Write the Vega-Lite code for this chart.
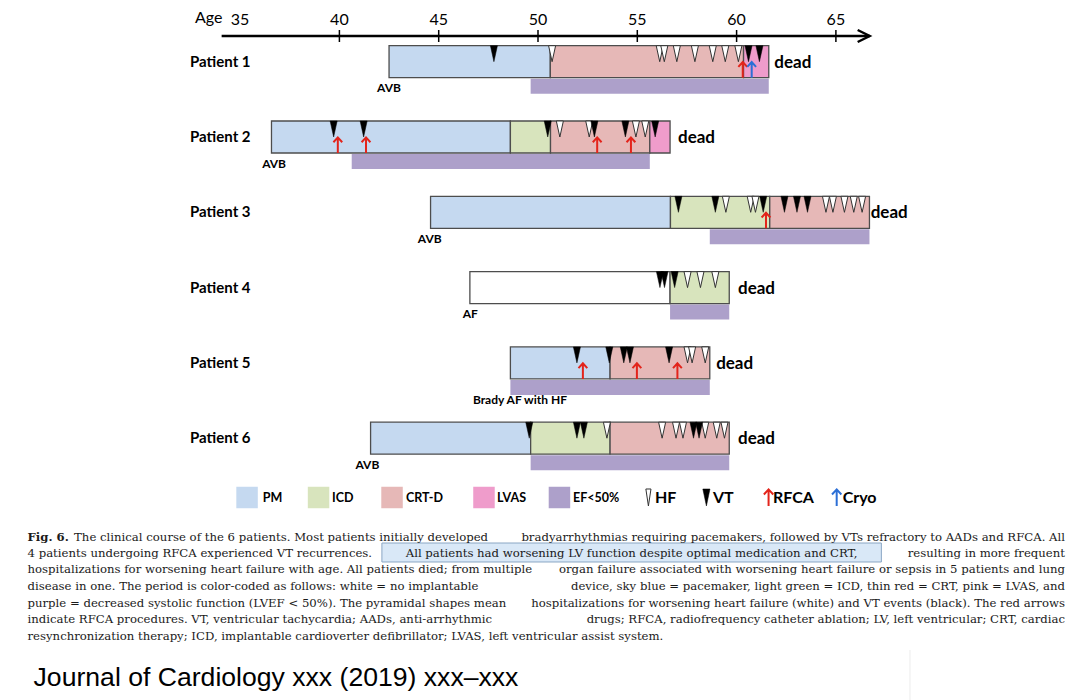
{
  "$schema": "https://vega.github.io/schema/vega-lite/v6.json",
  "width": 1076,
  "height": 700,
  "autosize": "none",
  "padding": 0,
  "background": "white",
  "config": {"view": {"stroke": null}, "axis": {"disable": true}},
  "datasets": {
    "axisline": [{"from": 34.07, "to": 66.7, "r": 0.6587}],
    "ticks": [{"age": 40}, {"age": 45}, {"age": 50}, {"age": 55}, {"age": 60}, {"age": 65}],
    "agelabels": [{"age": 35, "label": "35"}, {"age": 40, "label": "40"}, {"age": 45, "label": "45"}, {"age": 50, "label": "50"}, {"age": 55, "label": "55"}, {"age": 60, "label": "60"}, {"age": 65, "label": "65"}],
    "segs": [
      {"row": 1, "kind": "PM", "start": 42.5, "end": 50.62},
      {"row": 1, "kind": "CRT-D", "start": 50.62, "end": 60.35},
      {"row": 1, "kind": "LVAS", "start": 60.35, "end": 61.62},
      {"row": 2, "kind": "PM", "start": 36.58, "end": 48.61},
      {"row": 2, "kind": "ICD", "start": 48.61, "end": 50.63},
      {"row": 2, "kind": "CRT-D", "start": 50.63, "end": 55.63},
      {"row": 2, "kind": "LVAS", "start": 55.63, "end": 56.65},
      {"row": 3, "kind": "PM", "start": 44.59, "end": 56.67},
      {"row": 3, "kind": "ICD", "start": 56.67, "end": 61.67},
      {"row": 3, "kind": "CRT-D", "start": 61.67, "end": 66.69},
      {"row": 4, "kind": "None", "start": 46.57, "end": 56.65},
      {"row": 4, "kind": "ICD", "start": 56.65, "end": 59.63},
      {"row": 5, "kind": "PM", "start": 48.61, "end": 53.63},
      {"row": 5, "kind": "CRT-D", "start": 53.63, "end": 58.65},
      {"row": 6, "kind": "PM", "start": 41.57, "end": 49.63},
      {"row": 6, "kind": "ICD", "start": 49.63, "end": 53.63},
      {"row": 6, "kind": "CRT-D", "start": 53.63, "end": 59.63}
    ],
    "ef": [
      {"row": 1, "kind": "EF<50%", "start": 49.63, "end": 61.62},
      {"row": 2, "kind": "EF<50%", "start": 40.62, "end": 55.63},
      {"row": 3, "kind": "EF<50%", "start": 58.65, "end": 66.69},
      {"row": 4, "kind": "EF<50%", "start": 56.65, "end": 59.63},
      {"row": 5, "kind": "EF<50%", "start": 48.61, "end": 58.65},
      {"row": 6, "kind": "EF<50%", "start": 49.63, "end": 59.63}
    ],
    "events": [
      {"row": 1, "type": "VT", "age": 47.78},
      {"row": 1, "type": "HF", "age": 50.71},
      {"row": 1, "type": "HF", "age": 56.13},
      {"row": 1, "type": "HF", "age": 56.36},
      {"row": 1, "type": "HF", "age": 56.99},
      {"row": 1, "type": "HF", "age": 57.9},
      {"row": 1, "type": "HF", "age": 58.8},
      {"row": 1, "type": "HF", "age": 59.43},
      {"row": 1, "type": "HF", "age": 60.09},
      {"row": 1, "type": "VT", "age": 60.6},
      {"row": 1, "type": "VT", "age": 61.15},
      {"row": 2, "type": "VT", "age": 39.71},
      {"row": 2, "type": "VT", "age": 41.22},
      {"row": 2, "type": "VT", "age": 50.49},
      {"row": 2, "type": "HF", "age": 51.1},
      {"row": 2, "type": "HF", "age": 52.58},
      {"row": 2, "type": "VT", "age": 52.84},
      {"row": 2, "type": "VT", "age": 54.4},
      {"row": 2, "type": "HF", "age": 54.93},
      {"row": 2, "type": "HF", "age": 55.4},
      {"row": 2, "type": "VT", "age": 55.9},
      {"row": 3, "type": "VT", "age": 57.07},
      {"row": 3, "type": "VT", "age": 58.93},
      {"row": 3, "type": "HF", "age": 59.46},
      {"row": 3, "type": "HF", "age": 60.71},
      {"row": 3, "type": "HF", "age": 60.95},
      {"row": 3, "type": "VT", "age": 61.34},
      {"row": 3, "type": "VT", "age": 62.41},
      {"row": 3, "type": "VT", "age": 63.04},
      {"row": 3, "type": "VT", "age": 63.57},
      {"row": 3, "type": "HF", "age": 64.5},
      {"row": 3, "type": "HF", "age": 64.85},
      {"row": 3, "type": "HF", "age": 65.43},
      {"row": 3, "type": "HF", "age": 65.9},
      {"row": 3, "type": "HF", "age": 66.32},
      {"row": 4, "type": "VT", "age": 56.14},
      {"row": 4, "type": "VT", "age": 56.37},
      {"row": 4, "type": "VT", "age": 56.88},
      {"row": 4, "type": "HF", "age": 57.53},
      {"row": 4, "type": "HF", "age": 58.18},
      {"row": 4, "type": "HF", "age": 58.93},
      {"row": 5, "type": "VT", "age": 51.96},
      {"row": 5, "type": "VT", "age": 53.59},
      {"row": 5, "type": "VT", "age": 54.32},
      {"row": 5, "type": "VT", "age": 54.63},
      {"row": 5, "type": "VT", "age": 56.6},
      {"row": 5, "type": "HF", "age": 57.53},
      {"row": 5, "type": "HF", "age": 57.76},
      {"row": 5, "type": "HF", "age": 58.42},
      {"row": 6, "type": "VT", "age": 49.56},
      {"row": 6, "type": "VT", "age": 51.96},
      {"row": 6, "type": "VT", "age": 52.31},
      {"row": 6, "type": "HF", "age": 53.47},
      {"row": 6, "type": "HF", "age": 56.25},
      {"row": 6, "type": "HF", "age": 56.95},
      {"row": 6, "type": "HF", "age": 57.3},
      {"row": 6, "type": "VT", "age": 57.83},
      {"row": 6, "type": "VT", "age": 58.11},
      {"row": 6, "type": "HF", "age": 58.42},
      {"row": 6, "type": "HF", "age": 59.0},
      {"row": 6, "type": "HF", "age": 59.39}
    ],
    "arrows": [
      {"row": 1, "type": "RFCA", "age": 60.31},
      {"row": 1, "type": "Cryo", "age": 60.76},
      {"row": 2, "type": "RFCA", "age": 39.92},
      {"row": 2, "type": "RFCA", "age": 41.34},
      {"row": 2, "type": "RFCA", "age": 52.98},
      {"row": 2, "type": "RFCA", "age": 54.68},
      {"row": 3, "type": "RFCA", "age": 61.48},
      {"row": 5, "type": "RFCA", "age": 52.26},
      {"row": 5, "type": "RFCA", "age": 54.98},
      {"row": 5, "type": "RFCA", "age": 57.02}
    ],
    "patients": [
      {"row": 1, "name": "Patient 1"},
      {"row": 2, "name": "Patient 2"},
      {"row": 3, "name": "Patient 3"},
      {"row": 4, "name": "Patient 4"},
      {"row": 5, "name": "Patient 5"},
      {"row": 6, "name": "Patient 6"}
    ],
    "onset": [
      {"row": 1, "label": "AVB", "age": 42.5},
      {"row": 2, "label": "AVB", "age": 36.71},
      {"row": 3, "label": "AVB", "age": 44.55},
      {"row": 4, "label": "AF", "age": 46.59},
      {"row": 5, "label": "Brady AF with HF", "age": 49.09},
      {"row": 6, "label": "AVB", "age": 41.41}
    ],
    "dead": [
      {"row": 1, "age": 61.9},
      {"row": 2, "age": 57.05},
      {"row": 3, "age": 66.75},
      {"row": 4, "age": 60.07},
      {"row": 5, "age": 58.97},
      {"row": 6, "age": 60.07}
    ],
    "legendSwatches": [
      {"kind": "PM", "age": 35.35},
      {"kind": "ICD", "age": 38.95},
      {"kind": "CRT-D", "age": 42.65},
      {"kind": "LVAS", "age": 47.28},
      {"kind": "EF<50%", "age": 51.08}
    ],
    "legendLabels": [
      {"label": "PM", "age": 36.14},
      {"label": "ICD", "age": 39.63},
      {"label": "CRT-D", "age": 43.35},
      {"label": "LVAS", "age": 47.94},
      {"label": "EF<50%", "age": 51.76}
    ],
    "legendGlyphs": [{"type": "HF", "age": 55.56}, {"type": "VT", "age": 58.48}],
    "legendArrows": [{"type": "RFCA", "age": 61.61}, {"type": "Cryo", "age": 65.04}],
    "legendBig": [
      {"label": "HF", "age": 55.89},
      {"label": "VT", "age": 58.81},
      {"label": "RFCA", "age": 61.83},
      {"label": "Cryo", "age": 65.34}
    ],
    "highlight": [{"x1": 42.14, "x2": 67.29, "y1": 7.392, "y2": 7.644}],
    "captionBold": [{"y": 7.308, "text": "Fig. 6."}],
    "captionLeft": [
      {"y": 7.308, "age": 26.64, "text": "The clinical course of the 6 patients. Most patients initially developed"},
      {"y": 7.521, "age": 24.295, "text": "4 patients undergoing RFCA experienced VT recurrences."},
      {"y": 7.741, "age": 24.295, "text": "hospitalizations for worsening heart failure with age. All patients died; from multiple"},
      {"y": 7.963, "age": 24.295, "text": "disease in one. The period is color-coded as follows: white = no implantable"},
      {"y": 8.185, "age": 24.295, "text": "purple = decreased systolic function (LVEF < 50%). The pyramidal shapes mean"},
      {"y": 8.405, "age": 24.295, "text": "indicate RFCA procedures. VT, ventricular tachycardia; AADs, anti-arrhythmic"},
      {"y": 8.627, "age": 24.295, "text": "resynchronization therapy; ICD, implantable cardioverter defibrillator; LVAS, left ventricular assist system."}
    ],
    "captionMid": [{"y": 7.521, "text": "All patients had worsening LV function despite optimal medication and CRT,"}],
    "captionRight": [
      {"y": 7.308, "text": "bradyarrhythmias requiring pacemakers, followed by VTs refractory to AADs and RFCA. All"},
      {"y": 7.521, "text": "resulting in more frequent"},
      {"y": 7.741, "text": "organ failure associated with worsening heart failure or sepsis in 5 patients and lung"},
      {"y": 7.963, "text": "device, sky blue = pacemaker, light green = ICD, thin red = CRT, pink = LVAS, and"},
      {"y": 8.185, "text": "hospitalizations for worsening heart failure (white) and VT events (black). The red arrows"},
      {"y": 8.405, "text": "drugs; RFCA, radiofrequency catheter ablation; LV, left ventricular; CRT, cardiac"}
    ],
    "journal": [{"y": 9.185, "age": 24.6, "text": "Journal of Cardiology xxx (2019) xxx–xxx"}],
    "faint": [{"age": 68.73, "y1": 8.813, "y2": 9.4768}]
  },
  "layer": [
    {
      "data": {"name": "faint"},
      "mark": {"type": "rule", "color": "#ececec", "strokeWidth": 1},
      "encoding": {
        "x": {"field": "age", "type": "quantitative", "scale": {"domain": [22.91, 77.09], "nice": false, "zero": false}},
        "y": {"field": "y1", "type": "quantitative", "scale": {"domain": [0.1806, 9.4768], "reverse": true, "nice": false, "zero": false}},
        "y2": {"field": "y2"}
      }
    },
    {
      "data": {"name": "axisline"},
      "mark": {"type": "rule", "color": "#000000", "strokeWidth": 2.5},
      "encoding": {
        "x": {"field": "from", "type": "quantitative", "scale": {"domain": [22.91, 77.09], "nice": false, "zero": false}},
        "x2": {"field": "to"},
        "y": {"field": "r", "type": "quantitative", "scale": {"domain": [0.1806, 9.4768], "reverse": true, "nice": false, "zero": false}}
      }
    },
    {
      "data": {"name": "axisline"},
      "mark": {"type": "point", "shape": "M-1,-1 L1,0 L-1,1", "filled": false, "stroke": "#000000", "strokeWidth": 2.5, "size": 144, "opacity": 1, "xOffset": -6},
      "encoding": {
        "x": {"field": "to", "type": "quantitative", "scale": {"domain": [22.91, 77.09], "nice": false, "zero": false}},
        "y": {"field": "r", "type": "quantitative", "scale": {"domain": [0.1806, 9.4768], "reverse": true, "nice": false, "zero": false}}
      }
    },
    {
      "data": {"name": "ticks"},
      "mark": {"type": "rule", "color": "#000000", "strokeWidth": 1.5, "yOffset": -6, "y2Offset": 6},
      "encoding": {
        "x": {"field": "age", "type": "quantitative", "scale": {"domain": [22.91, 77.09], "nice": false, "zero": false}},
        "y": {"datum": 0.6587, "type": "quantitative", "scale": {"domain": [0.1806, 9.4768], "reverse": true, "nice": false, "zero": false}},
        "y2": {"datum": 0.6587}
      }
    },
    {
      "data": {"name": "agelabels"},
      "mark": {"type": "text", "font": "Lato", "fontSize": 16, "color": "#000000", "align": "center", "baseline": "middle"},
      "encoding": {
        "x": {"field": "age", "type": "quantitative", "scale": {"domain": [22.91, 77.09], "nice": false, "zero": false}},
        "y": {"datum": 0.4462, "type": "quantitative", "scale": {"domain": [0.1806, 9.4768], "reverse": true, "nice": false, "zero": false}},
        "text": {"field": "label"}
      }
    },
    {
      "data": {"values": [{"t": "Age"}]},
      "mark": {"type": "text", "font": "Lato", "fontSize": 16, "color": "#000000", "align": "left", "baseline": "middle"},
      "encoding": {
        "x": {"datum": 32.73, "type": "quantitative", "scale": {"domain": [22.91, 77.09], "nice": false, "zero": false}},
        "y": {"datum": 0.4262, "type": "quantitative", "scale": {"domain": [0.1806, 9.4768], "reverse": true, "nice": false, "zero": false}},
        "text": {"field": "t"}
      }
    },
    {
      "data": {"name": "ef"},
      "mark": {"type": "rect", "yOffset": 17, "y2Offset": 32},
      "encoding": {
        "x": {"field": "start", "type": "quantitative", "scale": {"domain": [22.91, 77.09], "nice": false, "zero": false}},
        "x2": {"field": "end"},
        "y": {"field": "row", "type": "quantitative", "scale": {"domain": [0.1806, 9.4768], "reverse": true, "nice": false, "zero": false}},
        "y2": {"field": "row"},
        "fill": {"field": "kind", "type": "nominal", "scale": {"domain": ["None", "PM", "ICD", "CRT-D", "LVAS", "EF<50%"], "range": ["#ffffff", "#c5d9f0", "#d8e4bd", "#e6b8b7", "#ef9ccb", "#ada0ca"]}, "legend": null}
      }
    },
    {
      "data": {"name": "segs"},
      "mark": {"type": "rect", "yOffset": -16, "y2Offset": 16, "stroke": "#4d4d4d", "strokeWidth": 1.3},
      "encoding": {
        "x": {"field": "start", "type": "quantitative", "scale": {"domain": [22.91, 77.09], "nice": false, "zero": false}},
        "x2": {"field": "end"},
        "y": {"field": "row", "type": "quantitative", "scale": {"domain": [0.1806, 9.4768], "reverse": true, "nice": false, "zero": false}},
        "y2": {"field": "row"},
        "fill": {"field": "kind", "type": "nominal", "scale": {"domain": ["None", "PM", "ICD", "CRT-D", "LVAS", "EF<50%"], "range": ["#ffffff", "#c5d9f0", "#d8e4bd", "#e6b8b7", "#ef9ccb", "#ada0ca"]}, "legend": null}
      }
    },
    {
      "data": {"name": "events"},
      "transform": [{"filter": "datum.type === 'HF'"}],
      "mark": {"type": "point", "shape": "M-0.44,-1 L0.44,-1 L0,1 Z", "size": 256, "filled": true, "fill": "#ffffff", "stroke": "#333333", "strokeWidth": 1, "opacity": 1, "yOffset": -8},
      "encoding": {
        "x": {"field": "age", "type": "quantitative", "scale": {"domain": [22.91, 77.09], "nice": false, "zero": false}},
        "y": {"field": "row", "type": "quantitative", "scale": {"domain": [0.1806, 9.4768], "reverse": true, "nice": false, "zero": false}}
      }
    },
    {
      "data": {"name": "events"},
      "transform": [{"filter": "datum.type === 'VT'"}],
      "mark": {"type": "point", "shape": "M-0.44,-1 L0.44,-1 L0,1 Z", "size": 256, "filled": true, "fill": "#000000", "stroke": "#000000", "strokeWidth": 0.5, "opacity": 1, "yOffset": -8},
      "encoding": {
        "x": {"field": "age", "type": "quantitative", "scale": {"domain": [22.91, 77.09], "nice": false, "zero": false}},
        "y": {"field": "row", "type": "quantitative", "scale": {"domain": [0.1806, 9.4768], "reverse": true, "nice": false, "zero": false}}
      }
    },
    {
      "data": {"name": "arrows"},
      "mark": {"type": "point", "shape": "M0,1 L0,-0.9 M-0.55,-0.35 L0,-0.95 L0.55,-0.35", "size": 256, "filled": false, "strokeWidth": 2, "opacity": 1, "yOffset": 8},
      "encoding": {
        "x": {"field": "age", "type": "quantitative", "scale": {"domain": [22.91, 77.09], "nice": false, "zero": false}},
        "y": {"field": "row", "type": "quantitative", "scale": {"domain": [0.1806, 9.4768], "reverse": true, "nice": false, "zero": false}},
        "stroke": {"field": "type", "type": "nominal", "scale": {"domain": ["RFCA", "Cryo"], "range": ["#e3241b", "#2c6fd6"]}, "legend": null}
      }
    },
    {
      "data": {"name": "patients"},
      "mark": {"type": "text", "font": "Lato", "fontSize": 15, "fontWeight": "bold", "color": "#000000", "align": "left", "baseline": "middle"},
      "encoding": {
        "x": {"datum": 32.48, "type": "quantitative", "scale": {"domain": [22.91, 77.09], "nice": false, "zero": false}},
        "y": {"field": "row", "type": "quantitative", "scale": {"domain": [0.1806, 9.4768], "reverse": true, "nice": false, "zero": false}},
        "text": {"field": "name"}
      }
    },
    {
      "data": {"name": "onset"},
      "transform": [{"filter": "datum.row !== 5"}],
      "mark": {"type": "text", "font": "Lato", "fontSize": 12, "fontWeight": "bold", "color": "#000000", "align": "center", "baseline": "middle", "yOffset": 26.5},
      "encoding": {
        "x": {"field": "age", "type": "quantitative", "scale": {"domain": [22.91, 77.09], "nice": false, "zero": false}},
        "y": {"field": "row", "type": "quantitative", "scale": {"domain": [0.1806, 9.4768], "reverse": true, "nice": false, "zero": false}},
        "text": {"field": "label"}
      }
    },
    {
      "data": {"name": "onset"},
      "transform": [{"filter": "datum.row === 5"}],
      "mark": {"type": "text", "font": "Lato", "fontSize": 12, "fontWeight": "bold", "color": "#000000", "align": "center", "baseline": "middle", "yOffset": 37},
      "encoding": {
        "x": {"field": "age", "type": "quantitative", "scale": {"domain": [22.91, 77.09], "nice": false, "zero": false}},
        "y": {"field": "row", "type": "quantitative", "scale": {"domain": [0.1806, 9.4768], "reverse": true, "nice": false, "zero": false}},
        "text": {"field": "label"}
      }
    },
    {
      "data": {"name": "dead"},
      "mark": {"type": "text", "font": "Lato", "fontSize": 17, "fontWeight": "bold", "color": "#000000", "align": "left", "baseline": "middle", "yOffset": 1},
      "encoding": {
        "x": {"field": "age", "type": "quantitative", "scale": {"domain": [22.91, 77.09], "nice": false, "zero": false}},
        "y": {"field": "row", "type": "quantitative", "scale": {"domain": [0.1806, 9.4768], "reverse": true, "nice": false, "zero": false}},
        "text": {"value": "dead"}
      }
    },
    {
      "data": {"name": "legendSwatches"},
      "mark": {"type": "point", "shape": "square", "size": 462, "filled": true, "opacity": 1, "strokeWidth": 0},
      "encoding": {
        "x": {"field": "age", "type": "quantitative", "scale": {"domain": [22.91, 77.09], "nice": false, "zero": false}},
        "y": {"datum": 6.7875, "type": "quantitative", "scale": {"domain": [0.1806, 9.4768], "reverse": true, "nice": false, "zero": false}},
        "fill": {"field": "kind", "type": "nominal", "scale": {"domain": ["None", "PM", "ICD", "CRT-D", "LVAS", "EF<50%"], "range": ["#ffffff", "#c5d9f0", "#d8e4bd", "#e6b8b7", "#ef9ccb", "#ada0ca"]}, "legend": null}
      }
    },
    {
      "data": {"name": "legendLabels"},
      "mark": {"type": "text", "font": "Lato", "fontSize": 12.5, "fontWeight": "bold", "color": "#000000", "align": "left", "baseline": "middle", "yOffset": 1},
      "encoding": {
        "x": {"field": "age", "type": "quantitative", "scale": {"domain": [22.91, 77.09], "nice": false, "zero": false}},
        "y": {"datum": 6.7875, "type": "quantitative", "scale": {"domain": [0.1806, 9.4768], "reverse": true, "nice": false, "zero": false}},
        "text": {"field": "label"}
      }
    },
    {
      "data": {"name": "legendGlyphs"},
      "transform": [{"filter": "datum.type === 'HF'"}],
      "mark": {"type": "point", "shape": "M-0.3,-1 L0.3,-1 L0,1 Z", "size": 289, "filled": true, "fill": "#ffffff", "stroke": "#333333", "strokeWidth": 1, "opacity": 1},
      "encoding": {
        "x": {"field": "age", "type": "quantitative", "scale": {"domain": [22.91, 77.09], "nice": false, "zero": false}},
        "y": {"datum": 6.7875, "type": "quantitative", "scale": {"domain": [0.1806, 9.4768], "reverse": true, "nice": false, "zero": false}}
      }
    },
    {
      "data": {"name": "legendGlyphs"},
      "transform": [{"filter": "datum.type === 'VT'"}],
      "mark": {"type": "point", "shape": "M-0.42,-1 L0.42,-1 L0,1 Z", "size": 289, "filled": true, "fill": "#000000", "stroke": "#000000", "strokeWidth": 0.5, "opacity": 1},
      "encoding": {
        "x": {"field": "age", "type": "quantitative", "scale": {"domain": [22.91, 77.09], "nice": false, "zero": false}},
        "y": {"datum": 6.7875, "type": "quantitative", "scale": {"domain": [0.1806, 9.4768], "reverse": true, "nice": false, "zero": false}}
      }
    },
    {
      "data": {"name": "legendArrows"},
      "mark": {"type": "point", "shape": "M0,1 L0,-0.9 M-0.55,-0.35 L0,-0.95 L0.55,-0.35", "size": 289, "filled": false, "strokeWidth": 2, "opacity": 1},
      "encoding": {
        "x": {"field": "age", "type": "quantitative", "scale": {"domain": [22.91, 77.09], "nice": false, "zero": false}},
        "y": {"datum": 6.7875, "type": "quantitative", "scale": {"domain": [0.1806, 9.4768], "reverse": true, "nice": false, "zero": false}},
        "stroke": {"field": "type", "type": "nominal", "scale": {"domain": ["RFCA", "Cryo"], "range": ["#e3241b", "#2c6fd6"]}, "legend": null}
      }
    },
    {
      "data": {"name": "legendBig"},
      "mark": {"type": "text", "font": "Lato", "fontSize": 16, "fontWeight": "bold", "color": "#000000", "align": "left", "baseline": "middle", "yOffset": 1},
      "encoding": {
        "x": {"field": "age", "type": "quantitative", "scale": {"domain": [22.91, 77.09], "nice": false, "zero": false}},
        "y": {"datum": 6.7875, "type": "quantitative", "scale": {"domain": [0.1806, 9.4768], "reverse": true, "nice": false, "zero": false}},
        "text": {"field": "label"}
      }
    },
    {
      "data": {"name": "highlight"},
      "mark": {"type": "rect", "fill": "#d9e8f7", "stroke": "#8aa6c4", "strokeWidth": 1},
      "encoding": {
        "x": {"field": "x1", "type": "quantitative", "scale": {"domain": [22.91, 77.09], "nice": false, "zero": false}},
        "x2": {"field": "x2"},
        "y": {"field": "y1", "type": "quantitative", "scale": {"domain": [0.1806, 9.4768], "reverse": true, "nice": false, "zero": false}},
        "y2": {"field": "y2"}
      }
    },
    {
      "data": {"name": "captionBold"},
      "mark": {"type": "text", "font": "DejaVu Serif", "fontSize": 11.7, "fontWeight": "bold", "color": "#1a1a1a", "align": "left", "baseline": "middle"},
      "encoding": {
        "x": {"datum": 24.295, "type": "quantitative", "scale": {"domain": [22.91, 77.09], "nice": false, "zero": false}},
        "y": {"field": "y", "type": "quantitative", "scale": {"domain": [0.1806, 9.4768], "reverse": true, "nice": false, "zero": false}},
        "text": {"field": "text"}
      }
    },
    {
      "data": {"name": "captionLeft"},
      "mark": {"type": "text", "font": "DejaVu Serif", "fontSize": 11.7, "color": "#1a1a1a", "align": "left", "baseline": "middle"},
      "encoding": {
        "x": {"field": "age", "type": "quantitative", "scale": {"domain": [22.91, 77.09], "nice": false, "zero": false}},
        "y": {"field": "y", "type": "quantitative", "scale": {"domain": [0.1806, 9.4768], "reverse": true, "nice": false, "zero": false}},
        "text": {"field": "text"}
      }
    },
    {
      "data": {"name": "captionMid"},
      "mark": {"type": "text", "font": "DejaVu Serif", "fontSize": 11.7, "color": "#1a1a1a", "align": "center", "baseline": "middle"},
      "encoding": {
        "x": {"datum": 54.71, "type": "quantitative", "scale": {"domain": [22.91, 77.09], "nice": false, "zero": false}},
        "y": {"field": "y", "type": "quantitative", "scale": {"domain": [0.1806, 9.4768], "reverse": true, "nice": false, "zero": false}},
        "text": {"field": "text"}
      }
    },
    {
      "data": {"name": "captionRight"},
      "mark": {"type": "text", "font": "DejaVu Serif", "fontSize": 11.7, "color": "#1a1a1a", "align": "right", "baseline": "middle"},
      "encoding": {
        "x": {"datum": 76.535, "type": "quantitative", "scale": {"domain": [22.91, 77.09], "nice": false, "zero": false}},
        "y": {"field": "y", "type": "quantitative", "scale": {"domain": [0.1806, 9.4768], "reverse": true, "nice": false, "zero": false}},
        "text": {"field": "text"}
      }
    },
    {
      "data": {"name": "journal"},
      "mark": {"type": "text", "font": "Liberation Sans", "fontSize": 26.6, "color": "#000000", "align": "left", "baseline": "middle"},
      "encoding": {
        "x": {"field": "age", "type": "quantitative", "scale": {"domain": [22.91, 77.09], "nice": false, "zero": false}},
        "y": {"field": "y", "type": "quantitative", "scale": {"domain": [0.1806, 9.4768], "reverse": true, "nice": false, "zero": false}},
        "text": {"field": "text"}
      }
    }
  ]
}
